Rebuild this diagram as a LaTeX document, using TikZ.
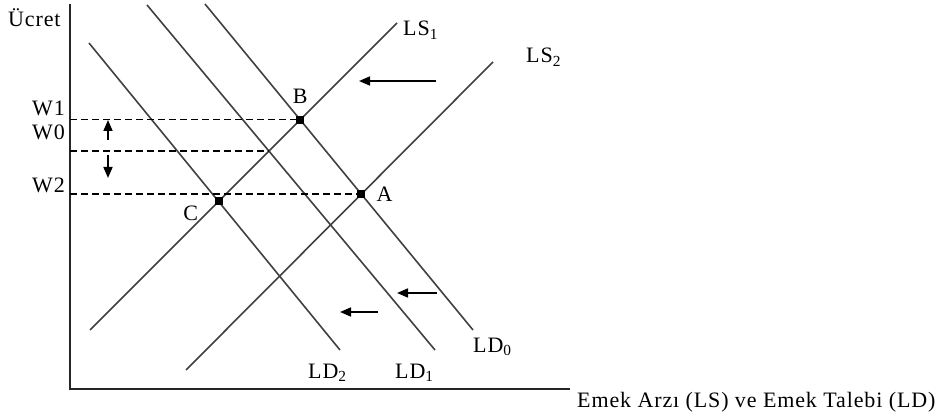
\documentclass[tikz,border=0pt]{standalone}
\usepackage{fontspec}
\setmainfont{Liberation Serif}[LetterSpace=4]
\usepackage{tikz}
\usetikzlibrary{arrows.meta}
\usetikzlibrary{intersections, positioning}

\begin{document}
\begin{tikzpicture}[
      x=1pt, y=-1pt,
      lbl/.style={font=\fontsize{22}{26}\selectfont, inner sep=0pt},
      curve_style/.style={black!75, line width=1.6pt},
      axis_style/.style={black!85, line width=2.2pt},
      dash_style/.style={black, line width=1.4pt, dash pattern=on 7pt off 4pt},
      shift_arrow/.style={black, line width=1.6pt, -{Triangle[length=11pt, width=9pt]}},
      eq_pt/.style={fill=black, minimum size=8pt, inner sep=0pt}
  ]

  \useasboundingbox (0, 0) rectangle (936, 419);

  % 1. Eksenler
  \coordinate (O) at (70, 389);
  \coordinate (ytop) at (70, 4);
  \coordinate (xend) at (570, 389);
  \draw[axis_style] (ytop) -- (O) -- (xend);
  \node[lbl, anchor=base west] (ylbl) at (8, 27) {Ücret};
  \node[lbl, anchor=base west] (xlbl) at (577, 407) {Emek Arzı (LS) ve Emek Talebi (LD)};

  % 2. Emek talebi eğrileri
  \draw[curve_style, name path=ld2] (89, 43) -- (340, 350);
  \draw[curve_style, name path=ld1] (147, 5) -- (435, 350);
  \draw[curve_style, name path=ld0] (205, 4) -- (473, 330);

  % 3. Emek arzı eğrileri
  \draw[curve_style, name path=ls1] (90, 330) -- (397, 23);
  \draw[curve_style, name path=ls2] (186, 370) -- (493, 62);

  % 4. Kesişimler
  \path[name intersections={of=ls1 and ld0, by=Bpt}];
  \path[name intersections={of=ls2 and ld0, by=Apt}];
  \path[name intersections={of=ls1 and ld2, by=Cpt}];
  \path[name intersections={of=ls1 and ld1, by=W0pt}];

  % 5. Ücret düzeyleri (kesikli)
  \foreach \p in {Bpt, W0pt, Apt}
    \draw[dash_style] (\p -| O) -- (\p);
  \node[lbl, anchor=base east] (w1) at (65, 116) {W1};
  \node[lbl, anchor=base east] (w0) at (65, 140) {W0};
  \node[lbl, anchor=base east] (w2) at (65, 193) {W2};

  % 6. Denge noktaları
  \node[eq_pt] (B) at (Bpt) {};
  \node[eq_pt] (A) at (Apt) {};
  \node[eq_pt] (C) at (Cpt) {};
  \node[lbl, above=12pt of B] (lblB) {B};
  \node[lbl, right=11pt of A] (lblA) {A};
  \node[lbl, below left=0pt and 16pt of C] (lblC) {C};

  % 7. Eğri adları
  \node[lbl, anchor=base west] (lblLS1) at (403, 36) {LS\textsubscript{1}};
  \node[lbl, anchor=base west] (lblLS2) at (526, 63) {LS\textsubscript{2}};
  \node[lbl, anchor=base west] (lblLD0) at (473, 352) {LD\textsubscript{0}};
  \node[lbl, anchor=base west] (lblLD1) at (395, 378) {LD\textsubscript{1}};
  \node[lbl, anchor=base west] (lblLD2) at (308, 378) {LD\textsubscript{2}};

  % 8. Kayma okları
  \coordinate (up0) at (108, 140);
  \coordinate (up1) at (108, 120);
  \coordinate (dn0) at (108, 155);
  \coordinate (dn1) at (108, 178);
  \draw[shift_arrow] (up0) -- (up1);
  \draw[shift_arrow] (dn0) -- (dn1);

  \coordinate (ls0) at (436, 81);
  \coordinate (ls1) at (359, 81);
  \coordinate (ldA0) at (437, 293);
  \coordinate (ldA1) at (397, 293);
  \coordinate (ldB0) at (378, 312);
  \coordinate (ldB1) at (340, 312);
  \draw[shift_arrow] (ls0) -- (ls1);
  \draw[shift_arrow] (ldA0) -- (ldA1);
  \draw[shift_arrow] (ldB0) -- (ldB1);

\end{tikzpicture}
\end{document}
